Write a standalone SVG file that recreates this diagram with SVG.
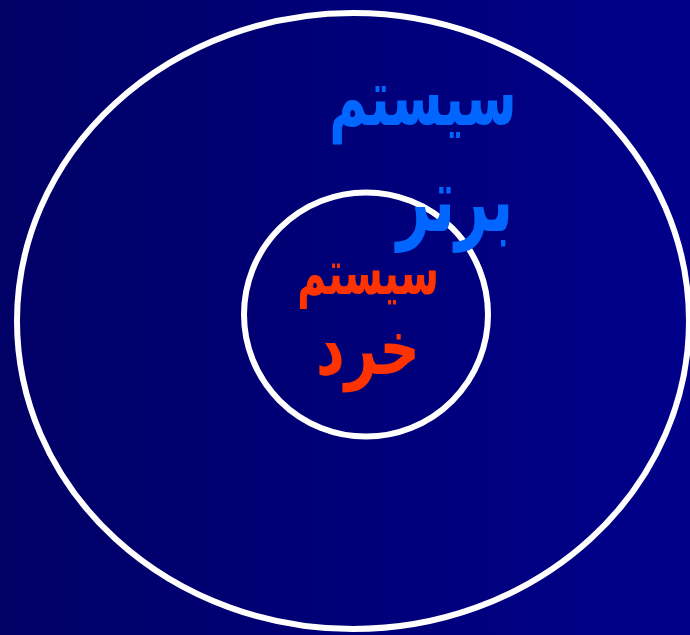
<svg xmlns="http://www.w3.org/2000/svg" width="690" height="635" viewBox="0 0 690 635">
<defs>
<linearGradient id="bg" x1="0" y1="0" x2="1" y2="0">
<stop offset="0" stop-color="#000066"/>
<stop offset="1" stop-color="#00008a"/>
</linearGradient>
<style>
.ring{fill:none;stroke:#ffffff;stroke-width:6}
.t{font-family:"DejaVu Sans","Noto Sans",sans-serif;font-weight:bold;text-anchor:middle}
.blue{fill:#0066ff}
.red{fill:#ff3300}
</style>
</defs>
<rect width="690" height="635" fill="url(#bg)"/>
<g id="outer"><ellipse class="ring" cx="353" cy="321" rx="336" ry="308"/></g>
<g id="inner"><circle class="ring" cx="366" cy="314.5" r="122"/></g>
<g id="label-outer">
<text class="t blue" transform="translate(423,125) scale(0.84,1.3)" font-size="62">سیستم</text>
<text class="t blue" transform="translate(455,231) scale(0.81,1.25)" font-size="72">برتر</text>
</g>
<g id="label-inner">
<text class="t red" transform="translate(368,294) scale(0.82,1.3)" font-size="48">سیستم</text>
<text class="t red" transform="translate(368,374) scale(1,1.35)" font-size="56">خرد</text>
</g>
</svg>
